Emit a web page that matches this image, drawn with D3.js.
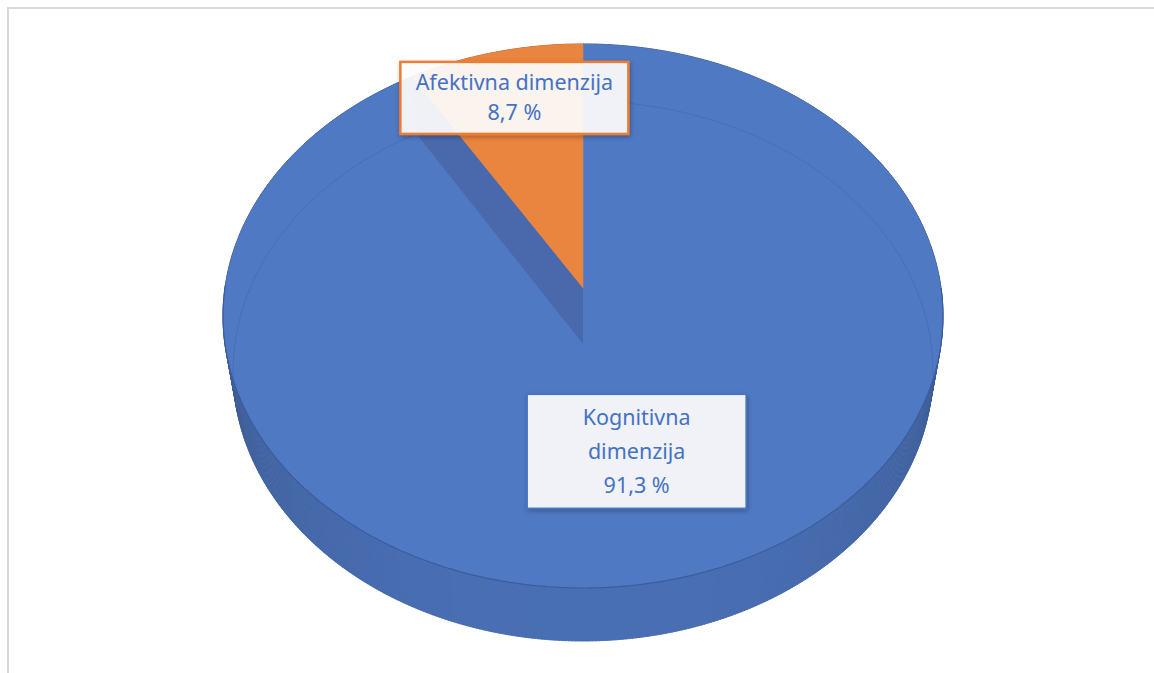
<!DOCTYPE html>
<html>
<head>
<meta charset="utf-8">
<script src="https://cdn.jsdelivr.net/npm/d3@7"></script>
<style>
  html, body { margin: 0; padding: 0; background: #fff; }
  svg { display: block; }
</style>
</head>
<body>
<div class="d3Chart"></div>
<script>
// podaci
var categories = ["Kognitivna dimenzija", "Afektivna dimenzija"];
var values = [91.3, 8.7];
var labelLines = [["Kognitivna", "dimenzija"], ["Afektivna dimenzija"]];
var colors = ["#5079c4", "#ea8540"];

var width = 1154;
var height = 673;

var svg = d3
  .select(".d3Chart")
  .append("svg")
  .attr("width", width)
  .attr("height", height);

// okvir grafikona
svg
  .append("rect")
  .attr("x", 8)
  .attr("y", 8)
  .attr("width", width)
  .attr("height", height)
  .attr("fill", "#fff")
  .attr("stroke", "#d9d9d9")
  .attr("stroke-width", 2);

var defs = svg.append("defs");
defs
  .append("filter")
  .attr("id", "shadow")
  .attr("x", "-20%")
  .attr("y", "-20%")
  .attr("width", "140%")
  .attr("height", "140%")
  .append("feDropShadow")
  .attr("dx", 1)
  .attr("dy", 2)
  .attr("stdDeviation", 2.5)
  .attr("flood-color", "#000")
  .attr("flood-opacity", 0.3);

// 3D projekcija (perspektiva)
var cx = 583,
  cy = 288;
var focal = 2295,
  dist = 6.41,
  tiltSin = 0.7517,
  tiltCos = Math.sqrt(1 - tiltSin * tiltSin),
  depth = 0.244;

var radius = d3.scaleLinear().domain([0, 1]).range([0, 1]);

function proj(r, a, level) {
  var X = radius(r) * Math.sin(a);
  var Z = radius(r) * Math.cos(a);
  var yc = Z * tiltSin + level * tiltCos;
  var zc = dist + Z * tiltCos - level * tiltSin;
  return [cx + (focal * X) / zc, cy - (focal * yc) / zc];
}

var pieData = d3
  .pie()
  .sort(null)
  .value(function (d) {
    return d;
  })(values);

var line = d3.line();
var step = Math.PI / 360;

function sliceIndex(a) {
  for (var i = 0; i < pieData.length; i++) {
    if (a >= pieData[i].startAngle && a < pieData[i].endAngle) return i;
  }
  return 0;
}

// bočna strana
var side = svg.append("g").attr("class", "side");
var strips = d3.range(0, Math.PI * 2, step);
strips.sort(function (a, b) {
  return Math.cos(b) - Math.cos(a);
});
strips.forEach(function (a) {
  var b = a + step * 1.3;
  var facing = Math.max(0, -Math.cos(a + step / 2));
  var base = d3.color(colors[sliceIndex(a)]);
  var dark = base.darker(1.7);
  var light = base.darker(0.25);
  var c = d3.interpolateRgb(dark, light)(Math.pow(facing, 0.4));
  side
    .append("path")
    .attr(
      "d",
      line([proj(1, a, 0), proj(1, b, 0), proj(1, b, -depth), proj(1, a, -depth)]) + "Z"
    )
    .attr("fill", c)
    .attr("stroke", c)
    .attr("stroke-width", 0.6);
});

// gornja strana
var topFace = svg.append("g").attr("class", "top");
function slicePoints(d, level) {
  var pts = [proj(0, 0, level)];
  var n = Math.max(2, Math.ceil((d.endAngle - d.startAngle) / step));
  for (var i = 0; i <= n; i++) {
    var a = d.startAngle + ((d.endAngle - d.startAngle) * i) / n;
    pts.push(proj(1, a, level));
  }
  return pts;
}

topFace
  .selectAll("path.slice")
  .data(pieData)
  .enter()
  .append("path")
  .attr("class", "slice")
  .attr("fill", function (d, i) {
    return colors[i];
  })
  .attr("stroke", function (d, i) {
    return colors[i];
  })
  .attr("stroke-width", 0.5)
  .attr("d", function (d) {
    return line(slicePoints(d, 0)) + "Z";
  });

// unutrašnji zid manjeg isječka
var small = pieData[1];
topFace
  .append("path")
  .attr(
    "d",
    line([
      proj(0, small.startAngle, 0),
      proj(1, small.startAngle, 0),
      proj(1, small.startAngle, -depth),
      proj(0, small.startAngle, -depth),
    ]) + "Z"
  )
  .attr("fill", "#4a69ad");

topFace
  .append("path")
  .attr("fill", colors[1])
  .attr("d", line(slicePoints(small, 0)) + "Z");

// linije ruba
var bottomRing = d3.range(0, Math.PI * 2 + step, step).map(function (a) {
  return proj(1, a, -depth);
});
topFace
  .append("path")
  .attr("d", line(bottomRing))
  .attr("fill", "none")
  .attr("stroke", "#3c62a8")
  .attr("stroke-opacity", 0.45)
  .attr("stroke-width", 1);

var frontEdge = d3.range(Math.PI / 2, Math.PI * 1.5 + step, step).map(function (a) {
  return proj(1, a, 0);
});
topFace
  .append("path")
  .attr("d", line(frontEdge))
  .attr("fill", "none")
  .attr("stroke", "#3a5c9e")
  .attr("stroke-width", 1.2);

// oznake
var fmt = d3.formatLocale({
  decimal: ",",
  thousands: ".",
  grouping: [3],
  currency: ["", " €"],
}).format(".1f");

var labelRadius = [0.6, 0.8];
var labelShift = [
  [-8, -2],
  [3, 2],
];
var boxSize = [
  [219, 114],
  [228, 72],
];
var lineGap = [34, 30];

var labels = svg
  .append("g")
  .attr("class", "labels")
  .selectAll("g")
  .data(pieData)
  .enter()
  .append("g")
  .attr("transform", function (d, i) {
    var mid = (d.startAngle + d.endAngle) / 2;
    var p = proj(labelRadius[i], mid, 0);
    return "translate(" + (p[0] + labelShift[i][0]) + "," + (p[1] + labelShift[i][1]) + ")";
  });

labels
  .append("rect")
  .attr("x", function (d, i) {
    return -boxSize[i][0] / 2;
  })
  .attr("y", function (d, i) {
    return -boxSize[i][1] / 2;
  })
  .attr("width", function (d, i) {
    return boxSize[i][0];
  })
  .attr("height", function (d, i) {
    return boxSize[i][1];
  })
  .attr("fill", "#fff")
  .attr("fill-opacity", 0.9)
  .attr("stroke", function (d, i) {
    return i === 1 ? "#ed7d31" : "#4472c4";
  })
  .attr("stroke-width", function (d, i) {
    return i === 1 ? 2.5 : 1.5;
  })
  .attr("filter", "url(#shadow)");

labels.each(function (d, i) {
  var lines = labelLines[i].concat([fmt(d.data) + " %"]);
  var g = d3.select(this);
  var y0 = (-(lines.length - 1) * lineGap[i]) / 2;
  lines.forEach(function (t, k) {
    g.append("text")
      .attr("x", 0)
      .attr("y", y0 + k * lineGap[i])
      .attr("dy", "0.35em")
      .attr("text-anchor", "middle")
      .attr("font-family", "'Noto Sans', 'Open Sans', sans-serif")
      .attr("font-size", 21.5)
      .attr("fill", "#4472c4")
      .text(t);
  });
});
</script>
</body>
</html>
